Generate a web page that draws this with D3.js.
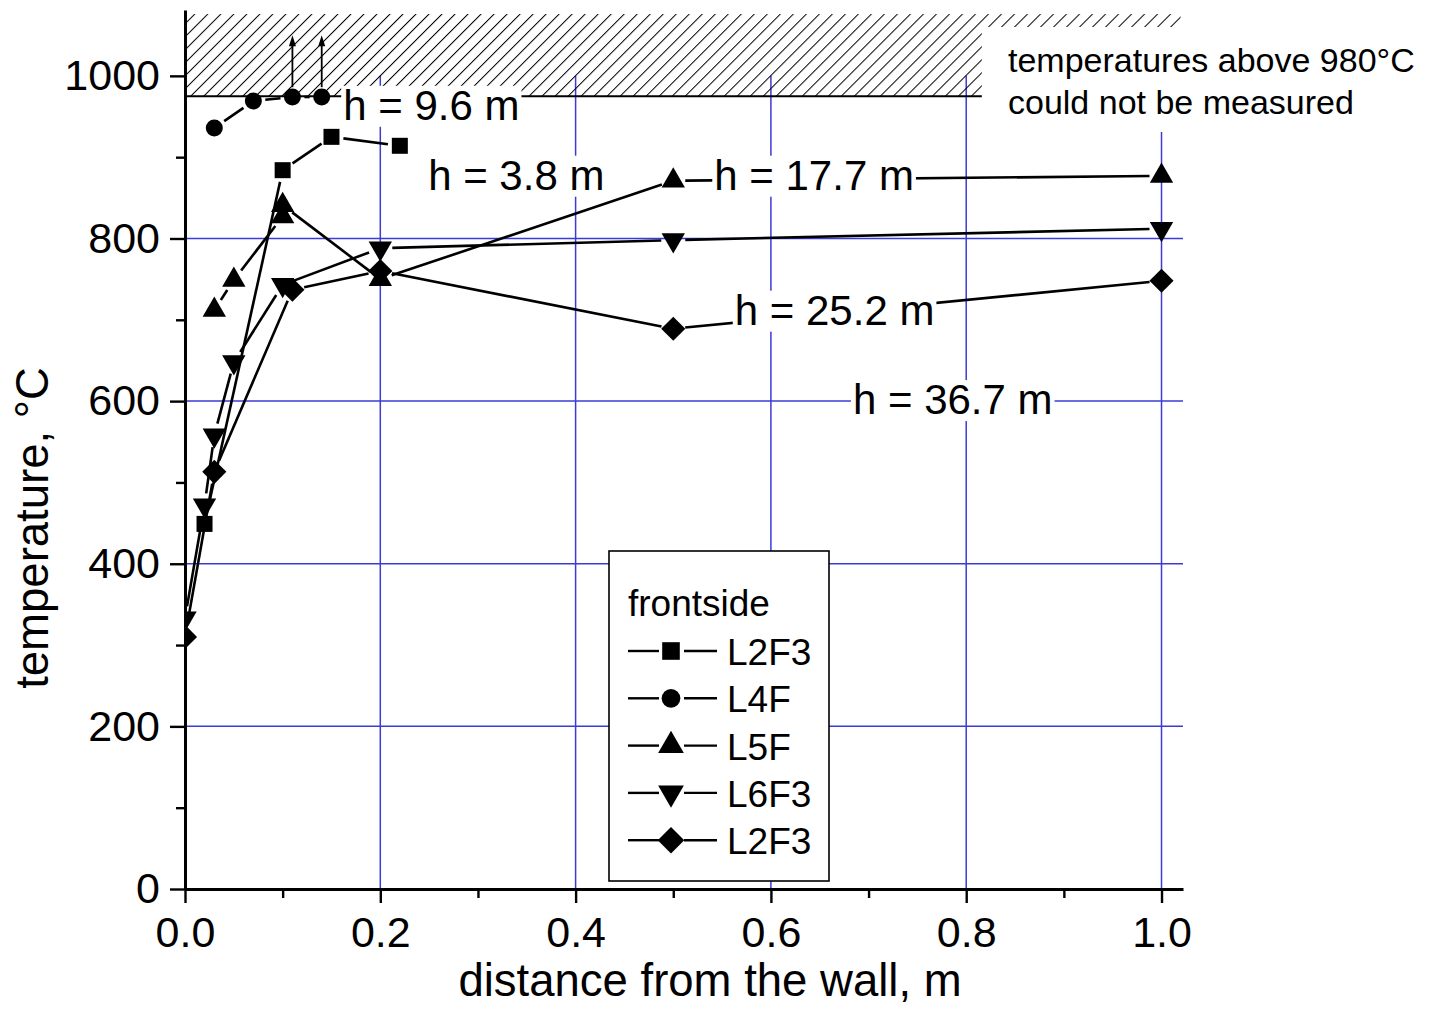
<!DOCTYPE html>
<html>
<head>
<meta charset="utf-8">
<script src="https://cdn.jsdelivr.net/npm/d3@7"></script>
<style>
  body { margin: 0; background: #fff; }
  svg text { font-family: "Liberation Sans", Arial, sans-serif; fill: #000; }
</style>
</head>
<body>
<svg id="chart" width="1437" height="1011"></svg>
<script>
// Axis ticks
const xTicks = [0, 0.2, 0.4, 0.6, 0.8, 1.0];
const xMinor = [0.1, 0.3, 0.5, 0.7, 0.9];
const yTicks = [0, 200, 400, 600, 800, 1000];
const yMinor = [100, 300, 500, 700, 900];
const yGrid = [200, 400, 600, 800];
const xGrid = [0.2, 0.4, 0.6, 0.8, 1.0];

// Measurement limit of the thermocouples, °C
const measureLimit = 975;

// Frontside temperature profiles: distance from the wall (m) and temperature (°C)
const distL2F3a = [0.02, 0.10, 0.15, 0.22];
const tempL2F3a = [449, 884, 925, 914];
const distL4F = [0.03, 0.07, 0.11, 0.14];
const tempL4F = [936, 969, 974, 974];
const distL5F = [0.03, 0.05, 0.10, 0.10, 0.20, 0.50, 1.00];
const tempL5F = [712, 749, 827, 841, 750, 871, 877];
const distL6F3 = [0.00, 0.02, 0.03, 0.05, 0.10, 0.20, 0.50, 1.00];
const tempL6F3 = [333, 472, 558, 648, 743, 788, 798, 812];
const distL2F3b = [0.00, 0.03, 0.11, 0.20, 0.50, 1.00];
const tempL2F3b = [310, 513, 737, 760, 689, 748];

const legendNames = ["L2F3", "L4F", "L5F", "L6F3", "L2F3"];
const heightLabels = ["h = 9.6 m", "h = 3.8 m", "h = 17.7 m", "h = 25.2 m", "h = 36.7 m"];
const overLimitDist = [0.11, 0.14];   // readings that went past the limit

const series = [
  { dist: distL2F3a, temp: tempL2F3a, sym: "square" },
  { dist: distL4F,   temp: tempL4F,   sym: "circle" },
  { dist: distL5F,   temp: tempL5F,   sym: "up" },
  { dist: distL6F3,  temp: tempL6F3,  sym: "down" },
  { dist: distL2F3b, temp: tempL2F3b, sym: "diamond" }
];

const svg = d3.select("#chart");
const x = d3.scaleLinear().domain([0, 1.022]).range([185, 1183]);
const y = d3.scaleLinear().domain([0, 1081]).range([889, 10]);
const GRID = "#3b3bd6";

// clip for data marks (markers at the wall are cut by the axis)
svg.append("defs").append("clipPath").attr("id", "plotClip")
  .append("rect").attr("x", x(0)).attr("y", 0).attr("width", 1437 - x(0)).attr("height", y(0));

// hatch pattern for the unmeasurable range
const pat = svg.select("defs").append("pattern")
  .attr("id", "hatch").attr("patternUnits", "userSpaceOnUse")
  .attr("width", 9.2).attr("height", 20)
  .attr("patternTransform", "rotate(45)");
pat.append("line").attr("x1", 0).attr("y1", 0).attr("x2", 0).attr("y2", 20)
  .attr("stroke", "#000").attr("stroke-width", 2);

// grid
const grid = svg.append("g");
grid.selectAll(".hg").data(yGrid).join("line")
  .attr("x1", x(0)).attr("x2", x(1.022))
  .attr("y1", d => y(d)).attr("y2", d => y(d))
  .attr("stroke", GRID).attr("stroke-width", 1.5);
grid.selectAll(".vg").data(xGrid).join("line")
  .attr("x1", d => x(d)).attr("x2", d => x(d))
  .attr("y1", y(0)).attr("y2", y(1000))
  .attr("stroke", GRID).attr("stroke-width", 1.5);

// hatched band above the limit
svg.append("rect")
  .attr("x", x(0)).attr("y", y(1076))
  .attr("width", x(1.0195) - x(0)).attr("height", y(measureLimit) - y(1076))
  .attr("fill", "url(#hatch)");
svg.append("line")
  .attr("x1", x(0)).attr("x2", x(1.0195))
  .attr("y1", y(measureLimit)).attr("y2", y(measureLimit))
  .attr("stroke", "#000").attr("stroke-width", 2);

// symbols
function symbolPath(kind, s) {
  const g = d3.symbol();
  switch (kind) {
    case "square":  return g.type(d3.symbolSquare).size(s * s)();
    case "circle":  return g.type(d3.symbolCircle).size(Math.PI * s * s / 4)();
    case "up":      return g.type(d3.symbolTriangle).size(Math.sqrt(3) / 4 * s * s * 1.3)();
    case "down":    return g.type(d3.symbolTriangle).size(Math.sqrt(3) / 4 * s * s * 1.3)();
    case "diamond": return g.type(d3.symbolSquare).size(s * s * 0.55)();
  }
}
const symSize = { square: 16, circle: 17, up: 20.5, down: 20.5, diamond: 23 };
function symbolTransform(kind) {
  if (kind === "down") return " rotate(180)";
  if (kind === "diamond") return " rotate(45)";
  return "";
}

function gappedSegments(pts, gap) {
  const out = [];
  for (let i = 1; i < pts.length; i++) {
    const [x1, y1] = pts[i - 1], [x2, y2] = pts[i];
    const dx = x2 - x1, dy = y2 - y1, L = Math.hypot(dx, dy);
    if (L <= 2 * gap + 2) continue;
    const ux = dx / L, uy = dy / L;
    out.push([[x1 + ux * gap, y1 + uy * gap], [x2 - ux * gap, y2 - uy * gap]]);
  }
  return out;
}

const data = svg.append("g").attr("clip-path", "url(#plotClip)");
const line = d3.line();
series.forEach(s => {
  const pts = s.dist.map((d, i) => [x(d), y(s.temp[i])]);
  data.append("g").selectAll("path").data(gappedSegments(pts, 12)).join("path")
    .attr("d", line).attr("fill", "none").attr("stroke", "#000").attr("stroke-width", 2.6);
  data.append("g").selectAll("path").data(pts).join("path")
    .attr("d", symbolPath(s.sym, symSize[s.sym]))
    .attr("transform", p => `translate(${p[0]},${p[1]})` + symbolTransform(s.sym))
    .attr("fill", "#000");
});

// arrows: readings beyond the limit
overLimitDist.forEach(d => {
  const x0 = x(d), y0 = y(measureLimit) - 9, y1 = y(1050);
  svg.append("line").attr("x1", x0).attr("x2", x0).attr("y1", y0).attr("y2", y1 + 6)
    .attr("stroke", "#000").attr("stroke-width", 1.8);
  svg.append("path").attr("d", `M${x0},${y1} L${x0 - 3.5},${y1 + 11} L${x0 + 3.5},${y1 + 11} Z`)
    .attr("fill", "#000");
});

// height labels sitting on their curves
const labelAnchors = [[0.162, 946], [0.249, 860], [0.542, 860], [0.563, 694], [0.684, 584]];
heightLabels.forEach((t, i) => {
  const g = svg.append("g");
  const txt = g.append("text").attr("x", x(labelAnchors[i][0])).attr("y", y(labelAnchors[i][1]))
    .attr("font-size", 42).text(t);
  const b = txt.node().getBBox();
  g.insert("rect", "text").attr("x", b.x - 2).attr("y", b.y + 4)
    .attr("width", b.width + 4).attr("height", b.height - 6).attr("fill", "#fff");
});

// note on the limit
const note = svg.append("g");
note.append("rect").attr("x", x(0.816)).attr("y", 27).attr("width", 1437 - x(0.816)).attr("height", 105)
  .attr("fill", "#fff");
note.append("text").attr("x", 1008).attr("y", 72).attr("font-size", 34).text("temperatures above 980°C");
note.append("text").attr("x", 1008).attr("y", 114).attr("font-size", 34).text("could not be measured");

// legend
const lg = svg.append("g").attr("transform", "translate(609,551)");
lg.append("rect").attr("width", 220).attr("height", 330).attr("fill", "#fff")
  .attr("stroke", "#000").attr("stroke-width", 1.6);
lg.append("text").attr("x", 19).attr("y", 65).attr("font-size", 37).text("frontside");
series.forEach((s, i) => {
  const cy = 100 + i * 47.3;
  const row = lg.append("g").attr("transform", `translate(0,${cy})`);
  row.append("line").attr("x1", 19).attr("x2", 50).attr("y1", 0).attr("y2", 0)
    .attr("stroke", "#000").attr("stroke-width", 2.4);
  row.append("line").attr("x1", 75).attr("x2", 108).attr("y1", 0).attr("y2", 0)
    .attr("stroke", "#000").attr("stroke-width", 2.4);
  row.append("path").attr("d", symbolPath(s.sym, symSize[s.sym] * 1.1))
    .attr("transform", `translate(62,0)` + symbolTransform(s.sym)).attr("fill", "#000");
  row.append("text").attr("x", 118).attr("y", 14).attr("font-size", 37).text(legendNames[i]);
});

// axes
svg.append("g").attr("transform", `translate(${x(0)},0)`)
  .call(d3.axisLeft(y).tickValues(yTicks).tickFormat(d3.format("d"))
    .tickSize(15).tickSizeOuter(0).tickPadding(10));
svg.append("g").attr("transform", `translate(${x(0)},0)`)
  .call(d3.axisLeft(y).tickValues(yMinor).tickSize(9).tickSizeOuter(0).tickFormat(""))
  .select(".domain").remove();
svg.append("g").attr("transform", `translate(0,${y(0)})`)
  .call(d3.axisBottom(x).tickValues(xTicks).tickFormat(d3.format(".1f"))
    .tickSize(14).tickSizeOuter(0).tickPadding(13));
svg.append("g").attr("transform", `translate(0,${y(0)})`)
  .call(d3.axisBottom(x).tickValues(xMinor).tickSize(9).tickSizeOuter(0).tickFormat(""))
  .select(".domain").remove();
svg.selectAll(".domain").attr("stroke-width", 3);
svg.selectAll(".tick line").attr("stroke-width", 2.4);
svg.selectAll(".tick text").attr("font-size", 43).attr("font-family", "Liberation Sans, Arial, sans-serif");

// axis titles
svg.append("text").attr("x", 710).attr("y", 996).attr("text-anchor", "middle")
  .attr("font-size", 45.5).text("distance from the wall, m");
svg.append("text").attr("transform", "translate(48,528) rotate(-90)").attr("text-anchor", "middle")
  .attr("font-size", 45.5).text("temperature, °C");
</script>
</body>
</html>
